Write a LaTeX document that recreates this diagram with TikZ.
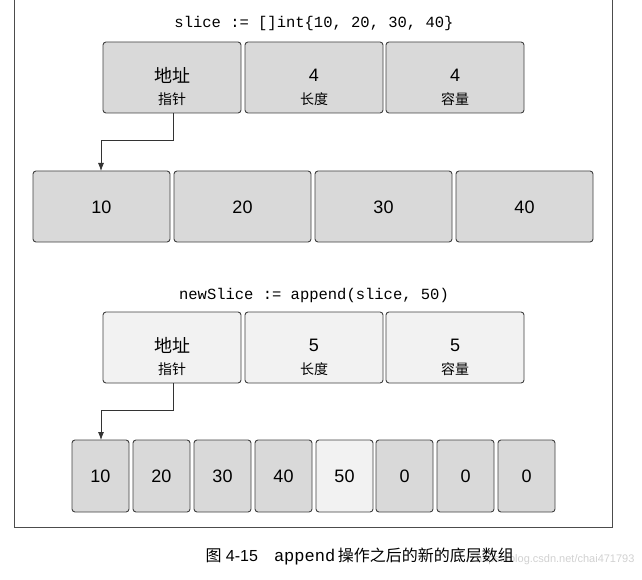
\documentclass[tikz,border=0pt]{standalone}
\usepackage{fontspec}
\setmainfont{Liberation Sans}
\setmonofont{Liberation Mono}
\newfontfamily\cjk{Noto Sans CJK SC}
\definecolor{dk}{HTML}{D9D9D9}
\definecolor{lt}{HTML}{F2F2F2}
\usetikzlibrary{arrows.meta}
\begin{document}
\begin{tikzpicture}[x=1pt,y=-1pt,
  cell/.style={draw=black!75,line width=0.9pt,rounded corners=3pt,fill=dk},
  lcell/.style={cell,fill=lt},
  big/.style={font=\fontsize{18}{20}\selectfont,inner sep=0pt},
  sml/.style={font=\cjk\fontsize{14}{16}\selectfont,inner sep=0pt},
  code/.style={font=\ttfamily\fontsize{15.5}{17}\selectfont},
  arr/.style={draw=black!80,line width=0.8pt,-{Latex[length=8pt,width=6pt]}}]
\useasboundingbox (0,0) rectangle (642,580);
\draw[black!70,line width=0.8pt] (14,-2) rectangle (612,527);
\node[code] (t1) at (314,23) {slice := []int\{10, 20, 30, 40\}};
\foreach \n/\x/\a/\b in {p1/103/{\cjk 地址}/指针,l1/245/4/长度,c1/386/4/容量}{
  \draw[cell] (\x,42) rectangle ++(138,71);
  \node[big] (\n) at (\x+69,75) {\a};
  \node[sml] (\n s) at (\x+69,99) {\b};
}
\foreach \n/\x/\v in {a1/33/10,a2/174/20,a3/315/30,a4/456/40}{
  \draw[cell] (\x,171) rectangle ++(137,71);
  \node[big] (\n) at (\x+68.5,207) {\v};
}
\coordinate (s1) at (173,113);
\coordinate (e1) at (101,171);
\draw[arr] (s1) |- (101,140) -- (e1);

\node[code] (t2) at (314,295) {newSlice := append(slice, 50)};
\foreach \n/\x/\a/\b in {p2/103/{\cjk 地址}/指针,l2/245/5/长度,c2/386/5/容量}{
  \draw[lcell] (\x,312) rectangle ++(138,71);
  \node[big] (\n) at (\x+69,345) {\a};
  \node[sml] (\n s) at (\x+69,369) {\b};
}
\foreach \n/\x/\v/\s in {b1/72/10/cell,b2/133/20/cell,b3/194/30/cell,b4/255/40/cell,b5/316/50/lcell,b6/376/0/cell,b7/437/0/cell,b8/498/0/cell}{
  \draw[\s] (\x,440) rectangle ++(57,72);
  \node[big] (\n) at (\x+28.5,476) {\v};
}
\coordinate (s2) at (173,383);
\coordinate (e2) at (101,440);
\draw[arr] (s2) |- (101,410) -- (e2);

\node[anchor=east,text=black!18,font=\fontsize{11}{12}\selectfont] (wm) at (638,560) {https://blog.csdn.net/chai471793};
\node[anchor=west,font=\fontsize{16}{18}\selectfont] (cap) at (202,556) {{\cjk 图} 4-15\quad{\ttfamily\fontsize{17}{18}\selectfont append}\,{\cjk 操作之后的新的底层数组}};
\end{tikzpicture}
\end{document}
